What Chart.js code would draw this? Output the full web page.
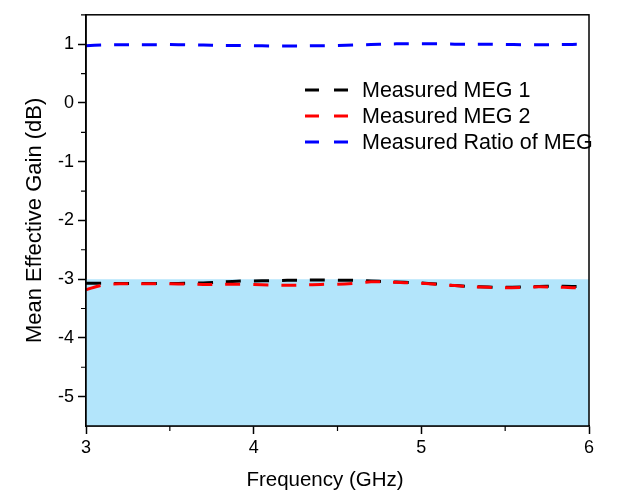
<!DOCTYPE html>
<html>
<head>
<meta charset="utf-8">
<script src="https://cdn.jsdelivr.net/npm/chart.js@4.4.0/dist/chart.umd.min.js"></script>
<style>
  html, body { margin: 0; padding: 0; background: #fff; }
</style>
</head>
<body>
<canvas id="megCanvas" width="619" height="493"></canvas>
<script>
// datos (GHz / dB)
const frequency = [3.0, 3.1, 3.2, 3.3, 3.4, 3.5, 3.6, 3.7, 3.8, 3.9,
                   4.0, 4.1, 4.2, 4.3, 4.4, 4.5, 4.6, 4.7, 4.8, 4.9,
                   5.0, 5.1, 5.2, 5.3, 5.4, 5.5, 5.6, 5.7, 5.8, 5.9, 6.0];

const meg1 = [-3.07, -3.07, -3.075, -3.075, -3.075, -3.075, -3.07, -3.065, -3.05, -3.035,
              -3.03, -3.025, -3.02, -3.015, -3.015, -3.02, -3.02, -3.03, -3.045, -3.055,
              -3.065, -3.085, -3.11, -3.125, -3.135, -3.14, -3.135, -3.125, -3.12, -3.125, -3.13];

const meg2 = [-3.18, -3.1, -3.08, -3.08, -3.08, -3.08, -3.085, -3.09, -3.09, -3.085,
              -3.09, -3.1, -3.105, -3.1, -3.09, -3.085, -3.07, -3.045, -3.05, -3.06,
              -3.07, -3.09, -3.11, -3.13, -3.14, -3.145, -3.14, -3.13, -3.135, -3.145, -3.16];

const ratioMeg = [0.975, 0.985, 0.99, 0.99, 0.99, 0.993, 0.99, 0.985, 0.98, 0.977,
                  0.974, 0.97, 0.968, 0.97, 0.974, 0.978, 0.985, 0.995, 1.003, 1.007,
                  1.007, 1.005, 1.0, 1.0, 1.0, 0.996, 0.992, 0.99, 0.993, 0.996, 0.998];

// zona sombreada por debajo de -3 dB
const shadeLevel = -3;

const xRange = [3, 6];
const yRange = [-5.5, 1.5];

const xTitle = "Frequency (GHz)";
const yTitle = "Mean Effective Gain (dB)";

const FONT = "Arial, 'Liberation Sans', sans-serif";

const toPoints = ys => frequency.map((f, i) => ({ x: f, y: ys[i] }));

// marco, ticks menores y titulo del eje x
const framePlugin = {
  id: "frame",
  afterDatasetsDraw(chart) {
    const { ctx, chartArea: a, scales } = chart;
    ctx.save();
    ctx.strokeStyle = "#000";
    ctx.lineWidth = 1.5;
    ctx.strokeRect(a.left, a.top, a.right - a.left, a.bottom - a.top);
    ctx.lineWidth = 1.2;
    ctx.beginPath();
    for (let v = xRange[0] + 0.5; v < xRange[1]; v += 1) {
      const px = scales.x.getPixelForValue(v);
      ctx.moveTo(px, a.bottom);
      ctx.lineTo(px, a.bottom + 5);
    }
    for (let v = yRange[0] + 1; v <= yRange[1]; v += 1) {
      const py = scales.y.getPixelForValue(v);
      ctx.moveTo(a.left, py);
      ctx.lineTo(a.left - 5, py);
    }
    ctx.stroke();
    // titulo x (algo desplazado a la izquierda en el original)
    ctx.fillStyle = "#000";
    ctx.font = "20.5px " + FONT;
    ctx.textAlign = "center";
    ctx.textBaseline = "middle";
    ctx.fillText(xTitle, 325, 480);
    ctx.restore();
  }
};

// leyenda dibujada dentro del area
const legendPlugin = {
  id: "insideLegend",
  afterDraw(chart, args, opts) {
    const { ctx } = chart;
    ctx.save();
    ctx.font = opts.font;
    ctx.textBaseline = "middle";
    ctx.fillStyle = "#000";
    chart.data.datasets.filter(d => d.label).forEach((d, i) => {
      const y = opts.y + i * opts.rowGap;
      ctx.strokeStyle = d.borderColor;
      ctx.lineWidth = d.borderWidth;
      ctx.setLineDash([14, 15]);
      ctx.beginPath();
      ctx.moveTo(opts.x, y);
      ctx.lineTo(opts.x + 43, y);
      ctx.stroke();
      ctx.setLineDash([]);
      ctx.fillText(d.label, opts.x + 57, y + 1);
    });
    ctx.restore();
  }
};

const lineStyle = color => ({
  borderColor: color,
  borderWidth: 3,
  borderDash: [15, 13],
  pointRadius: 0,
  fill: false,
  tension: 0.3
});

const chart = new Chart(document.getElementById("megCanvas"), {
  type: "line",
  data: {
    datasets: [
      { label: "Measured MEG 1", data: toPoints(meg1), order: 2, ...lineStyle("#000000") },
      { label: "Measured MEG 2", data: toPoints(meg2), order: 1, ...lineStyle("#ff0000") },
      { label: "Measured Ratio of MEG", data: toPoints(ratioMeg), order: 3, ...lineStyle("#0000ff") },
      {
        label: "",
        data: xRange.map(x => ({ x: x, y: shadeLevel })),
        borderWidth: 0,
        pointRadius: 0,
        backgroundColor: "#b3e5fb",
        fill: "start",
        order: 10
      }
    ]
  },
  options: {
    responsive: false,
    animation: false,
    layout: { padding: { top: 10, right: 30, left: 0, bottom: 0 } },
    plugins: {
      legend: { display: false },
      tooltip: { enabled: false },
      insideLegend: { x: 305, y: 90, rowGap: 26, font: "21.5px " + FONT }
    },
    scales: {
      x: {
        type: "linear",
        min: xRange[0],
        max: xRange[1],
        ticks: {
          stepSize: 0.5,
          color: "#000",
          font: { family: FONT, size: 18 },
          padding: 3,
          maxRotation: 0,
          callback: v => Number.isInteger(v) ? String(v) : null
        },
        grid: { drawOnChartArea: false, tickLength: 8, tickColor: "#000", tickWidth: 1.5 },
        border: { color: "#000", width: 1.5 },
        afterFit: s => { s.height = 67; }
      },
      y: {
        min: yRange[0],
        max: yRange[1],
        ticks: {
          stepSize: 0.5,
          color: "#000",
          font: { family: FONT, size: 18 },
          padding: 4,
          callback: v => Number.isInteger(v) ? String(v) : null
        },
        grid: { drawOnChartArea: false, tickLength: 8, tickColor: "#000", tickWidth: 1.5 },
        border: { color: "#000", width: 1.5 },
        title: {
          display: true,
          text: yTitle,
          color: "#000",
          font: { family: FONT, size: 22 },
          padding: { top: 22, bottom: 0 }
        },
        afterFit: s => { s.width = 86; }
      }
    }
  },
  plugins: [framePlugin, legendPlugin]
});
</script>
</body>
</html>
